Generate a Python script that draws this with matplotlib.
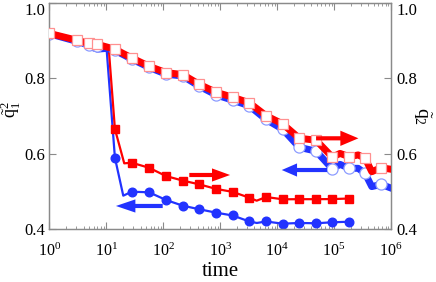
import matplotlib
matplotlib.use("Agg")
import matplotlib.pyplot as plt
from matplotlib.patches import FancyArrowPatch, ArrowStyle
from matplotlib.ticker import LogLocator, NullFormatter, FixedLocator

plt.rcParams['font.family'] = ['Liberation Serif', 'DejaVu Serif']
plt.rcParams['mathtext.fontset'] = 'custom'
plt.rcParams['mathtext.rm'] = 'Liberation Serif'
plt.rcParams['mathtext.it'] = 'Liberation Serif:italic'

RED = '#ff0000'
BLUE = '#2233ff'

# --- thick lines (right axis, q2) ---
t_q2_red = [1, 3.03, 4.98, 6.96, 14.2, 28, 56.3, 112, 220, 430, 845, 1660, 3250, 6380,
            12530, 24500, 48200, 93100, 127000, 185000, 264000, 350000, 458000, 667000, 1000000]
q2_red = [0.919, 0.901, 0.8925, 0.890, 0.877, 0.854, 0.832, 0.815, 0.810, 0.784, 0.763, 0.750,
          0.735, 0.701, 0.679, 0.641, 0.636, 0.591, 0.601, 0.592, 0.597, 0.588, 0.5525, 0.563, 0.559]
mark_q2_red = [0, 1, 2, 3, 4, 5, 6, 7, 8, 9, 10, 11, 12, 13, 14, 15, 16, 17, 19, 21, 23]

t_q2_blue = [1, 3.03, 4.98, 6.96, 14.2, 28, 56.3, 112, 220, 430, 845, 1660, 3250, 6380,
             12530, 24500, 48200, 93100, 127000, 185000, 264000, 350000, 458000, 667000, 1000000]
q2_blue = [0.918, 0.898, 0.888, 0.885, 0.874, 0.851, 0.829, 0.811, 0.806, 0.779, 0.756, 0.742,
           0.727, 0.691, 0.665, 0.617, 0.607, 0.560, 0.572, 0.5615, 0.5615, 0.548, 0.513, 0.519, 0.509]
mark_q2_blue = mark_q2_red

# --- thin lines (left axis, q1) ---
t_q1_red = [1, 3.03, 4.98, 6.96, 11, 14.2, 20.7, 28, 56.3, 112, 220, 430, 845, 1660, 3250, 4370,
            6380, 12530, 24500, 48200, 93100, 185000]
q1_red = [0.919, 0.901, 0.8925, 0.890, 0.884, 0.6656, 0.5747, 0.5763, 0.563, 0.541, 0.529, 0.519,
          0.507, 0.499, 0.4836, 0.4757, 0.4855, 0.4794, 0.4797, 0.4797, 0.480, 0.4815]
mark_q1_red = [5, 7, 8, 9, 10, 11, 12, 13, 14, 16, 17, 18, 19, 20, 21]

t_q1_blue = [1, 3.03, 4.98, 6.96, 10.2, 14.2, 19.9, 28, 56.3, 112, 220, 430, 845, 1660, 3250, 4400,
             6380, 12530, 24500, 48200, 93100, 185000]
q1_blue = [0.918, 0.897, 0.878, 0.871, 0.873, 0.5896, 0.489, 0.4995, 0.498, 0.4776, 0.4625, 0.453,
           0.444, 0.4365, 0.4206, 0.4167, 0.4206, 0.4148, 0.4167, 0.4159, 0.4185, 0.420]
mark_q1_blue = [5, 7, 8, 9, 10, 11, 12, 13, 14, 16, 17, 18, 19, 20, 21]

# arrows: (t_start, t_end, y)
arrow_red_q2 = (48200, 267000, 0.641)
arrow_blue_q2 = (75200, 12050, 0.557)
arrow_red_q1 = (287, 1490, 0.5438)
arrow_blue_q1 = (98, 14.8, 0.4617)

yticks = [0.4, 0.6, 0.8, 1.0]
ytick_labels = ['0.4', '0.6', '0.8', '1.0']

fig = plt.figure(figsize=(4.36, 2.82), dpi=100)
ax = fig.add_axes([0.113, 0.187, 0.784, 0.803])
ax2 = ax.twinx()

ax.plot(t_q1_blue, q1_blue, '-', color=BLUE, lw=1.6, marker='o', ms=6.2,
        markevery=mark_q1_blue, mfc=BLUE, mec=BLUE, zorder=2)
ax.plot(t_q1_red, q1_red, '-', color=RED, lw=1.6, marker='s', ms=5.2,
        markevery=mark_q1_red, mfc=RED, mec=RED, zorder=3)

ax2.plot(t_q2_blue, q2_blue, '-', color=BLUE, lw=5, marker='o', ms=8.0,
         markevery=mark_q2_blue, mfc='white', mec='#8c9cff', mew=0.9, zorder=2)
ax2.plot(t_q2_red, q2_red, '-', color=RED, lw=5, marker='s', ms=7.2,
         markevery=mark_q2_red, mfc='white', mec='#ff9090', mew=0.9, zorder=3)

def add_arrow(a, data, color, hl, hw, tw):
    t0, t1, y = data
    p = FancyArrowPatch((t0, y), (t1, y),
                        arrowstyle=ArrowStyle.Simple(head_length=hl, head_width=hw, tail_width=tw),
                        mutation_scale=1, color=color, lw=0, shrinkA=0, shrinkB=0, zorder=5)
    a.add_patch(p)

add_arrow(ax2, arrow_red_q2, RED, 13, 11, 3)
add_arrow(ax2, arrow_blue_q2, BLUE, 11, 9.5, 3)
add_arrow(ax, arrow_red_q1, RED, 13, 9.5, 3)
add_arrow(ax, arrow_blue_q1, BLUE, 14, 9.5, 3)

for a in (ax, ax2):
    a.set_xscale('log')
    a.set_xlim(1, 1e6)
    a.set_ylim(0.4, 1.0)
    a.yaxis.set_major_locator(FixedLocator(yticks))
    a.set_yticklabels(ytick_labels)
    for s in a.spines.values():
        s.set_color('#8a8a8a')
        s.set_linewidth(0.9)

ax.xaxis.set_major_locator(LogLocator(base=10, numticks=10))
ax.xaxis.set_minor_locator(LogLocator(base=10, subs=range(2, 10), numticks=20))
ax.xaxis.set_minor_formatter(NullFormatter())
ax.tick_params(axis='x', which='major', direction='in', top=True, length=5, width=0.8,
               color='#8a8a8a', labelsize=11.5, pad=10)
ax.tick_params(axis='x', which='minor', direction='in', top=True, length=2.5, width=0.6,
               color='#8a8a8a')
ax.tick_params(axis='y', which='major', direction='in', length=5, width=0.8,
               color='#8a8a8a', labelsize=12, pad=3)
ax2.tick_params(axis='y', which='major', direction='in', length=5, width=0.8,
                color='#8a8a8a', labelsize=12, pad=4)

# top tick labels kept inside the figure
ax.get_yticklabels()[-1].set_va('top')
ax2.get_yticklabels()[-1].set_va('top')

ax.set_xlabel('time', fontsize=15, labelpad=1)
ax.set_ylabel(r'$\tilde{\mathrm{q}}_1^2$', fontsize=13, va='center')
ax.yaxis.set_label_coords(-0.114, 0.53)
ax2.set_ylabel(r'$\tilde{\mathrm{q}}_2$', fontsize=14, rotation=-90, va='center')
ax2.yaxis.set_label_coords(1.091, 0.5)

fig.savefig('out.png', dpi=100)
